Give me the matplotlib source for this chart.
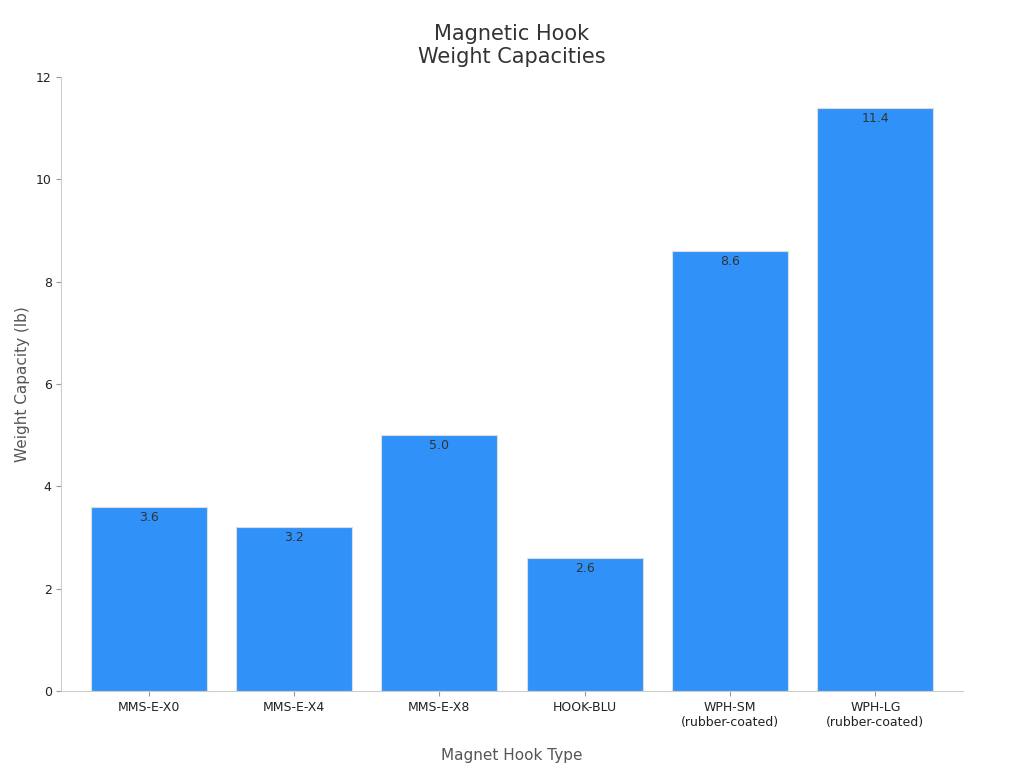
import matplotlib
matplotlib.use("Agg")
import matplotlib.pyplot as plt

categories = ["MMS-E-X0", "MMS-E-X4", "MMS-E-X8", "HOOK-BLU",
              "WPH-SM\n(rubber-coated)", "WPH-LG\n(rubber-coated)"]
capacities = [3.6, 3.2, 5.0, 2.6, 8.6, 11.4]

plt.rcParams['font.family'] = ['DejaVu Sans']
fig, ax = plt.subplots(figsize=(10.24, 7.68), dpi=100)
fig.subplots_adjust(left=0.06, right=0.94, top=0.9, bottom=0.1)

bars = ax.bar(range(len(categories)), capacities, width=0.8,
              color='#3092f8', edgecolor='#dddddd', linewidth=0.8)
for i, v in enumerate(capacities):
    ax.text(i, v - 0.08, f"{v:.1f}", ha='center', va='top', fontsize=9, color='#333333')

ax.set_xticks(range(len(categories)))
ax.set_xticklabels(categories, fontsize=9, color='#222222')
ax.tick_params(axis='y', labelsize=9, colors='#222222')
ax.tick_params(color='#999999')
ax.set_xlim(-0.6, 5.6)
ax.set_ylim(0, 12)
ax.set_yticks(range(0, 13, 2))
ax.set_xlabel("Magnet Hook Type", fontsize=11, color='#555555', labelpad=14)
ax.set_ylabel("Weight Capacity (lb)", fontsize=11, color='#555555')
ax.set_title("Magnetic Hook\nWeight Capacities", fontsize=15, color='#333333', pad=10)
for s in ['top', 'right']:
    ax.spines[s].set_visible(False)
for s in ['left', 'bottom']:
    ax.spines[s].set_color('#cccccc')

plt.savefig("out.png", dpi=100)
